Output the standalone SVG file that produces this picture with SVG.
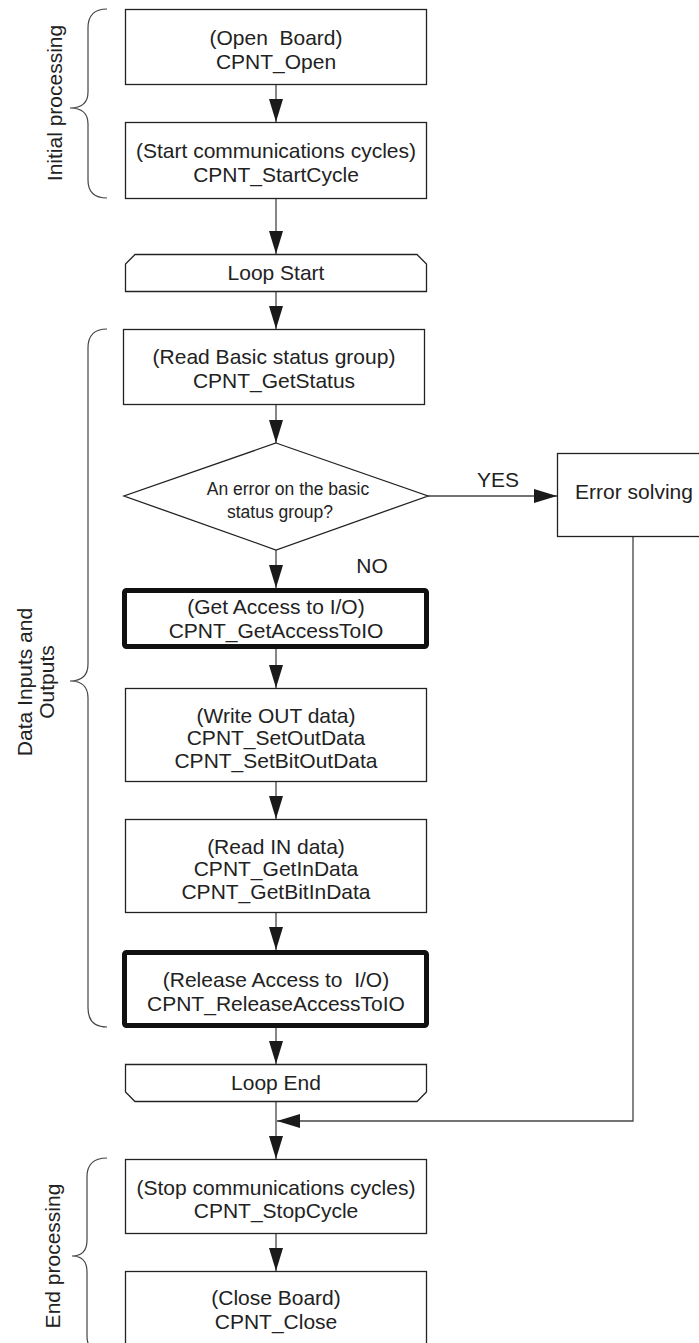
<svg xmlns="http://www.w3.org/2000/svg" width="699" height="1343" viewBox="0 0 699 1343">
<style>
text{font-family:"Liberation Sans",Arial,sans-serif;font-size:21px;fill:#222;text-anchor:middle;white-space:pre}
.box{fill:#fff;stroke:#222;stroke-width:1.3}
.bold{fill:#fff;stroke:#111;stroke-width:5}
.con{fill:none;stroke:#444;stroke-width:1.3}
.brace{fill:none;stroke:#444;stroke-width:1.2}
.sm{font-size:17.5px}
</style>
<defs>
<marker id="ah" markerUnits="userSpaceOnUse" markerWidth="24" markerHeight="14" refX="23" refY="7" orient="auto">
<path d="M0,0 L23,7 L0,14 z" fill="#1a1a1a"/>
</marker>
</defs>
<rect width="699" height="1343" fill="#fff"/>
<g id="braces">
<path class="brace" d="M107,9 Q88,9 88,28 L88,92 Q88,108 70,108 Q88,108 88,124 L88,180 Q88,198 107,198"/>
<path class="brace" d="M107,329 Q88,329 88,348 L88,664 Q88,681 70,681 Q88,681 88,698 L88,1008 Q88,1027 107,1027"/>
<path class="brace" d="M107,1158 Q87,1158 87,1177 L87,1240 Q87,1256 72,1256 Q87,1256 87,1272 L87,1336 Q87,1354 107,1354"/>
<text transform="translate(62,103) rotate(-90)">Initial processing</text>
<text transform="translate(32,682) rotate(-90)">Data Inputs and</text>
<text transform="translate(54,682) rotate(-90)">Outputs</text>
<text transform="translate(60,1256) rotate(-90)">End processing</text>
</g>
<g id="connectors">
<path class="con" marker-end="url(#ah)" d="M276,84 V122"/>
<path class="con" marker-end="url(#ah)" d="M276,198 V254"/>
<path class="con" marker-end="url(#ah)" d="M276,292 V329"/>
<path class="con" marker-end="url(#ah)" d="M276,404 V443"/>
<path class="con" marker-end="url(#ah)" d="M276,550 V588"/>
<path class="con" marker-end="url(#ah)" d="M428,496 H557"/>
<path class="con" marker-end="url(#ah)" d="M276,648 V688"/>
<path class="con" marker-end="url(#ah)" d="M276,782 V819"/>
<path class="con" marker-end="url(#ah)" d="M276,913 V950"/>
<path class="con" marker-end="url(#ah)" d="M276,1028 V1064"/>
<path class="con" marker-end="url(#ah)" d="M276,1102 V1159"/>
<path class="con" marker-end="url(#ah)" d="M633,537 V1121 H277"/>
<path class="con" marker-end="url(#ah)" d="M276,1233 V1271"/>
<text x="498" y="487">YES</text>
<text x="372" y="573">NO</text>
</g>
<g id="n1">
<rect class="box" x="125.5" y="9.5" width="301" height="75"/>
<text x="276" y="44.5" xml:space="preserve">(Open  Board)</text>
<text x="276" y="68.5">CPNT_Open</text>
</g>
<g id="n2">
<rect class="box" x="125.5" y="122.5" width="301" height="76"/>
<text x="276" y="158">(Start communications cycles)</text>
<text x="276" y="182">CPNT_StartCycle</text>
</g>
<g id="loopstart">
<path class="box" d="M135,254.5 H417 L426.5,264 V291.5 H125.5 V264 Z"/>
<text x="276" y="280">Loop Start</text>
</g>
<g id="n3">
<rect class="box" x="123.5" y="329.5" width="301" height="75"/>
<text x="274" y="364">(Read Basic status group)</text>
<text x="274" y="388">CPNT_GetStatus</text>
</g>
<g id="decision">
<path class="box" d="M276,443 L428,496 L276,550 L124,496 Z"/>
<text class="sm" x="288" y="495">An error on the basic</text>
<text class="sm" x="280" y="518">status group?</text>
</g>
<g id="error">
<rect class="box" x="557.5" y="453.5" width="150" height="83"/>
<text x="634" y="499">Error solving</text>
</g>
<g id="n4">
<rect class="bold" x="124.5" y="590.5" width="302" height="56" rx="2"/>
<text x="276" y="614">(Get Access to I/O)</text>
<text x="276" y="638">CPNT_GetAccessToIO</text>
</g>
<g id="n5">
<rect class="box" x="125.5" y="688.5" width="301" height="93"/>
<text x="276" y="722.5">(Write OUT data)</text>
<text x="276" y="745">CPNT_SetOutData</text>
<text x="276" y="767.5">CPNT_SetBitOutData</text>
</g>
<g id="n6">
<rect class="box" x="125.5" y="819.5" width="301" height="93"/>
<text x="276" y="853.5">(Read IN data)</text>
<text x="276" y="876">CPNT_GetInData</text>
<text x="276" y="898.5">CPNT_GetBitInData</text>
</g>
<g id="n7">
<rect class="bold" x="124.5" y="952.5" width="302" height="73" rx="2"/>
<text x="276" y="986.5" xml:space="preserve">(Release Access to  I/O)</text>
<text x="276" y="1010.5">CPNT_ReleaseAccessToIO</text>
</g>
<g id="loopend">
<path class="box" d="M125.5,1064.5 H426.5 V1092 L417,1101.5 H135 L125.5,1092 Z"/>
<text x="276" y="1090">Loop End</text>
</g>
<g id="n8">
<rect class="box" x="125.5" y="1159.5" width="301" height="74"/>
<text x="276" y="1195">(Stop communications cycles)</text>
<text x="276" y="1218">CPNT_StopCycle</text>
</g>
<g id="n9">
<rect class="box" x="125.5" y="1271.5" width="301" height="76"/>
<text x="276" y="1305">(Close Board)</text>
<text x="276" y="1329">CPNT_Close</text>
</g>
</svg>
